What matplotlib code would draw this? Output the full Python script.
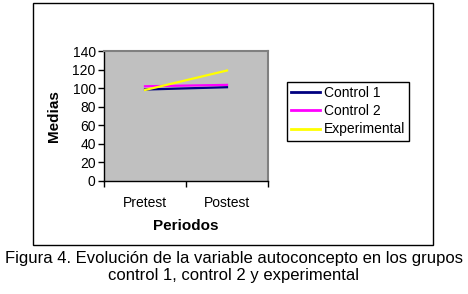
import matplotlib.pyplot as plt
from matplotlib.patches import Rectangle

plt.rcParams["font.family"] = ["Liberation Sans", "DejaVu Sans"]

periods = ["Pretest", "Postest"]
control1 = [98.5, 101]
control2 = [102, 103.5]
experimental = [98, 119]
series_names = ["Control 1", "Control 2", "Experimental"]
series_colors = ["#000080", "#FF00FF", "#FFFF00"]
y_ticks = [0, 20, 40, 60, 80, 100, 120, 140]
caption = ("Figura 4. Evolución de la variable autoconcepto en los grupos\n"
           "control 1, control 2 y experimental")

fig = plt.figure(figsize=(4.68, 2.94), dpi=100)
fig.patch.set_facecolor("white")

# outer frame around chart
fig.patches.append(Rectangle((33 / 468, 1 - 245 / 294), 400 / 468, 242 / 294,
                             transform=fig.transFigure, fill=False,
                             edgecolor="black", linewidth=1.0))

ax = fig.add_axes([104 / 468, 1 - 181 / 294, 164 / 468, 130 / 294])
ax.set_facecolor("#C0C0C0")

xs = [0.5, 1.5]
for vals, name, col in zip([control1, control2, experimental], series_names, series_colors):
    ax.plot(xs, vals, color=col, linewidth=1.6, label=name)

ax.set_xlim(0, 2)
ax.set_ylim(0, 140)
ax.set_yticks(y_ticks)
ax.set_xticks([0, 1, 2])
ax.set_xticklabels([])
ax.set_xticks(xs, minor=True)
ax.set_xticklabels(periods, minor=True)
ax.tick_params(axis="x", which="minor", length=0, pad=11, labelsize=10)
ax.tick_params(axis="x", which="major", direction="out", length=4, width=1)
ax.tick_params(axis="y", direction="out", length=4, width=1, labelsize=10, pad=2)

for side in ["top", "right"]:
    ax.spines[side].set_color("#808080")
    ax.spines[side].set_linewidth(1.5)
for side in ["left", "bottom"]:
    ax.spines[side].set_color("black")
    ax.spines[side].set_linewidth(1.0)

ax.set_ylabel("Medias", fontsize=11, fontweight="bold", labelpad=8)
ax.set_xlabel("Periodos", fontsize=11, fontweight="bold", labelpad=6)

leg = fig.legend(loc="upper left", bbox_to_anchor=(287 / 468, 1 - 82 / 294),
                 fontsize=10, frameon=True, fancybox=False, edgecolor="black",
                 framealpha=1, handlelength=2.1, handletextpad=0.25,
                 labelspacing=0.3, borderpad=0.3, borderaxespad=0)
leg.get_frame().set_linewidth(1.0)
for line in leg.get_lines():
    line.set_linewidth(2.0)

fig.text(0.5, 1 - 267 / 294, caption, ha="center", va="center",
         fontsize=12, linespacing=1.2)

fig.savefig("out.png", dpi=100, facecolor="white")
